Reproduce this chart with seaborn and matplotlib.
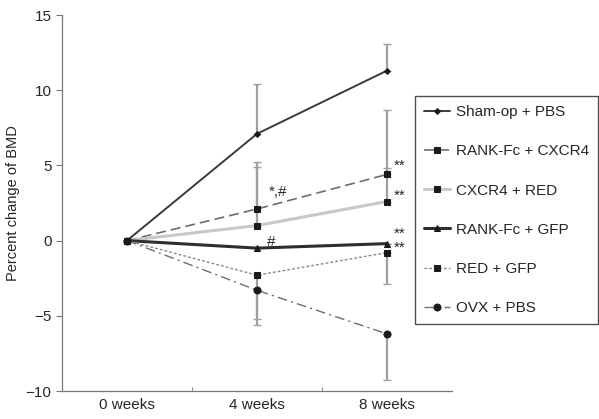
import seaborn as sns
import matplotlib.pyplot as plt
import pandas as pd
from matplotlib.ticker import FixedLocator

weeks = ["0 weeks", "4 weeks", "8 weeks"]
groups = ["Sham-op + PBS", "RANK-Fc + CXCR4", "CXCR4 + RED",
          "RANK-Fc + GFP", "RED + GFP", "OVX + PBS"]

sham = [0, 7.1, 11.3]
rank_cxcr4 = [0, 2.1, 4.4]
cxcr4_red = [0, 1.0, 2.6]
rank_gfp = [0, -0.5, -0.2]
red_gfp = [0, -2.3, -0.8]
ovx = [0, -3.3, -6.2]

# one sided error bars (lower, upper)
sham_err = ([0, 0, 0], [0, 3.3, 1.8])
rank_cxcr4_err = ([0, 0, 0], [0, 3.1, 4.3])
cxcr4_red_err = ([0, 0, 0], [0, 3.9, 2.2])
rank_gfp_err = ([0, 0, 0], [0, 0, 0])
red_gfp_err = ([0, 2.9, 2.1], [0, 0, 0])
ovx_err = ([0, 2.3, 3.1], [0, 0, 0])

values = [sham, rank_cxcr4, cxcr4_red, rank_gfp, red_gfp, ovx]
errors = [sham_err, rank_cxcr4_err, cxcr4_red_err, rank_gfp_err, red_gfp_err, ovx_err]

styles = [
    dict(color="#3a3a3a", linestyle="-", linewidth=1.4, marker="D", markersize=3),
    dict(color="#6e6e6e", linestyle=(0, (6, 3)), linewidth=1.2, marker="s", markersize=5),
    dict(color="#c8c8c8", linestyle="-", linewidth=2.2, marker="s", markersize=4.5),
    dict(color="#2e2e2e", linestyle="-", linewidth=2.2, marker="^", markersize=4),
    dict(color="#8a8a8a", linestyle=(0, (2, 1.5)), linewidth=1.0, marker="s", markersize=4.5),
    dict(color="#6e6e6e", linestyle=(0, (7, 3, 1.5, 3)), linewidth=1.0, marker="o", markersize=5),
]

rows = []
for g, v in zip(groups, values):
    for i, w in enumerate(weeks):
        rows.append({"group": g, "x": i, "value": v[i]})
df = pd.DataFrame(rows)

sns.set_style("white")
plt.rcParams['font.family'] = ['Liberation Sans', 'DejaVu Sans']

fig = plt.figure(figsize=(5.99, 4.19), dpi=100)
ax = fig.add_axes([0.1035, 0.0668, 0.651, 0.8974])

for g, err, st in zip(groups, errors, styles):
    sub = df[df["group"] == g]
    ax.errorbar(sub["x"], sub["value"], yerr=err, fmt="none", ecolor="#a0a0a0",
                elinewidth=1.6, capsize=3, capthick=1.0, zorder=1)

for g, st in zip(groups, styles):
    sub = df[df["group"] == g]
    sns.lineplot(data=sub, x="x", y="value", ax=ax, label=g,
                 color=st["color"], linestyle=st["linestyle"], linewidth=st["linewidth"],
                 marker=st["marker"], markersize=st["markersize"],
                 markerfacecolor="#1a1a1a", markeredgecolor="#1a1a1a", zorder=3)

ax.set_xlim(-0.5, 2.5)
ax.set_ylim(-10, 15)
ax.set_xticks([0, 1, 2])
ax.set_xticklabels(weeks)
ax.xaxis.set_minor_locator(FixedLocator([0.5, 1.5]))
ax.tick_params(axis="x", which="major", length=0, labelsize=11, pad=5)
ax.tick_params(axis="x", which="minor", length=3, color="#777777", direction="in", bottom=True)
ax.set_yticks([-10, -5, 0, 5, 10, 15])
ax.set_yticklabels(["\u221210", "\u22125", "0", "5", "10", "15"])
ax.tick_params(axis="y", length=4, color="#777777", labelsize=11, left=True)
ax.set_xlabel("")
ax.set_ylabel("Percent change of BMD", fontsize=10.5)

for side in ["top", "right"]:
    ax.spines[side].set_visible(False)
for side in ["left", "bottom"]:
    ax.spines[side].set_color("#777777")
    ax.spines[side].set_linewidth(0.9)

# significance marks
ax.text(1.09, 3.2, "*,#", fontsize=11, ha="left", va="center")
ax.text(1.08, -0.1, "#", fontsize=11, ha="left", va="center")
for y in [4.95, 3.0, 0.45, -0.5]:
    ax.text(2.05, y, "**", fontsize=11, ha="left", va="center")

leg = ax.legend(loc="upper left", frameon=True, fancybox=False, fontsize=11,
                labelspacing=1.65, handlelength=1.7, borderpad=0.6,
                handletextpad=0.35, borderaxespad=0)
leg.get_frame().set_edgecolor("#222222")
leg.get_frame().set_linewidth(1.0)
leg.set_bbox_to_anchor((0.693, 0.771), transform=fig.transFigure)
leg.set_zorder(5)

fig.savefig("out.png", dpi=100)
